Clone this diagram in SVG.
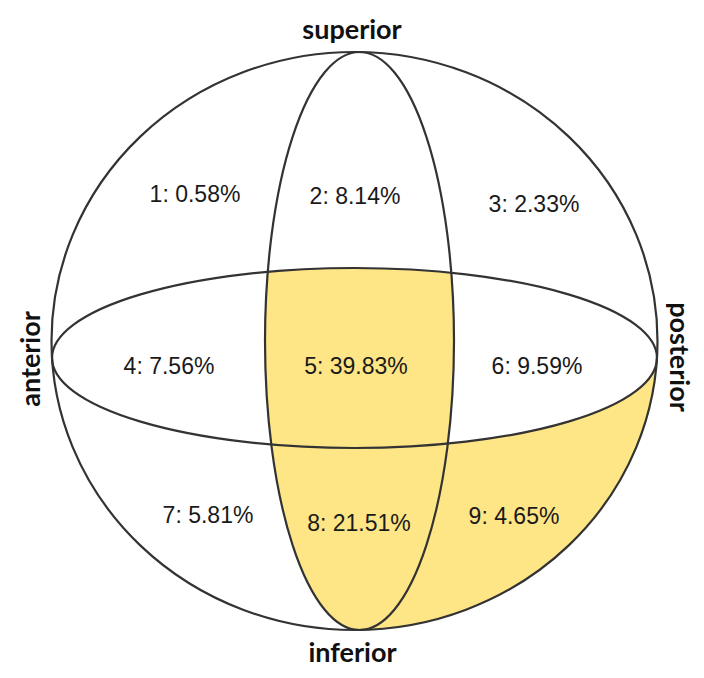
<svg xmlns="http://www.w3.org/2000/svg" width="704" height="678" viewBox="0 0 704 678">
<style>
.line{fill:none;stroke:#333;stroke-width:2.2}
.fillY{fill:#FEE586;stroke:none}
.num{font-family:"Liberation Sans",Arial,sans-serif;font-size:23px;fill:#1a1a1a;text-anchor:middle}
.axis{font-family:Lato,"Open Sans",sans-serif;font-weight:bold;font-size:27px;fill:#111;text-anchor:middle}
</style>
<defs>
<clipPath id="vclip"><ellipse cx="359.5" cy="341" rx="94.5" ry="289"/></clipPath>
</defs>
<rect width="704" height="678" fill="#fff"/>
<g id="shading">
<ellipse class="fillY" cx="354.5" cy="358" rx="302.5" ry="90" clip-path="url(#vclip)"/>
<path class="fillY" d="M271.3,444.5 A302.5,90 0 0 0 657,358 A303,289 0 0 1 359.5,630 A94.5,289 0 0 1 271.3,444.5 Z"/>
</g>
<g id="connectors">
<ellipse id="outer" class="line" cx="354.5" cy="341" rx="303" ry="289"/>
<ellipse id="vertical" class="line" cx="359.5" cy="341" rx="94.5" ry="289"/>
<ellipse id="horizontal" class="line" cx="354.5" cy="358" rx="302.5" ry="90"/>
</g>
<g id="region1"><text class="num" x="195" y="202">1: 0.58%</text></g>
<g id="region2"><text class="num" x="355" y="204">2: 8.14%</text></g>
<g id="region3"><text class="num" x="534" y="212">3: 2.33%</text></g>
<g id="region4"><text class="num" x="169" y="374">4: 7.56%</text></g>
<g id="region5"><text class="num" x="356" y="374">5: 39.83%</text></g>
<g id="region6"><text class="num" x="537" y="374">6: 9.59%</text></g>
<g id="region7"><text class="num" x="208" y="523">7: 5.81%</text></g>
<g id="region8"><text class="num" x="359" y="531">8: 21.51%</text></g>
<g id="region9"><text class="num" x="514" y="524">9: 4.65%</text></g>
<g id="labels">
<text id="superior" class="axis" x="352" y="39">superior</text>
<text id="inferior" class="axis" x="352.5" y="662">inferior</text>
<text id="anterior" class="axis" transform="translate(40,359) rotate(-90)" x="0" y="0">anterior</text>
<text id="posterior" class="axis" transform="translate(670,357) rotate(90)" x="0" y="0">posterior</text>
</g>
</svg>
